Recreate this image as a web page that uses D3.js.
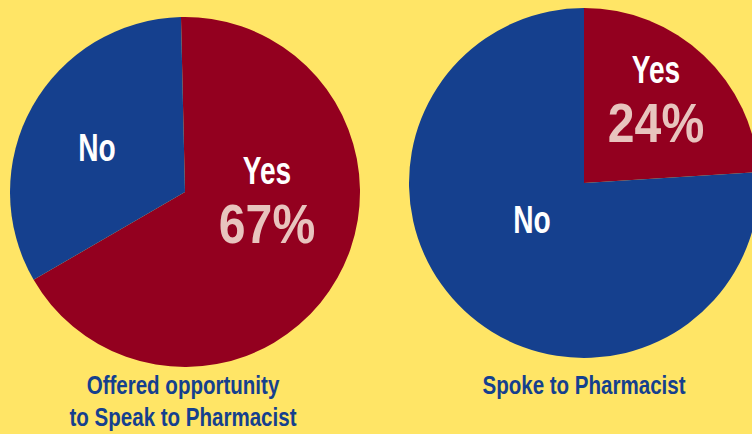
<!DOCTYPE html>
<html><head><meta charset="utf-8">
<script src="https://cdn.jsdelivr.net/npm/d3@7"></script>
<style>html,body{margin:0;padding:0;background:#FFE566;}svg{display:block;}</style>
</head><body>
<svg id="c" width="752" height="434"></svg>
<script>
const categories = ["Yes", "No"];
const offeredValues = [67, 33];
const spokeValues = [24, 76];
const titles = [["Offered opportunity", "to Speak to Pharmacist"], ["Spoke to Pharmacist"]];

const colors = {Yes: "#93001F", No: "#15408E"};
const font = "'Liberation Sans',Arial,sans-serif";
const svg = d3.select("#c");
svg.append("rect").attr("width", 752).attr("height", 434).attr("fill", "#FFE566");

function label(x, y, txt, size, sx, fill) {
  svg.append("text").attr("transform", `translate(${x},${y}) scale(${sx},1)`)
    .attr("text-anchor", "middle").attr("font-family", font).attr("font-weight", "bold")
    .attr("font-size", size).attr("fill", fill).text(txt);
}

const pies = [
  {values: offeredValues, cx: 185, cy: 192, r: 175, start: -0.023,
   labels: {Yes: [267, 184, true], No: [97, 161, false]}, title: titles[0], tx: 183, ty: 394},
  {values: spokeValues, cx: 584, cy: 183, r: 175, start: 0,
   labels: {Yes: [656, 83, true], No: [532, 233, false]}, title: titles[1], tx: 584, ty: 394}
];

pies.forEach(p => {
  const data = categories.map((c, i) => ({cat: c, value: p.values[i]}));
  const pie = d3.pie().sort(null).value(d => d.value)
    .startAngle(p.start).endAngle(p.start + 2 * Math.PI);
  const arc = d3.arc().innerRadius(0).outerRadius(p.r);
  const g = svg.append("g").attr("transform", `translate(${p.cx},${p.cy})`);
  g.selectAll("path").data(pie(data)).join("path")
    .attr("d", arc).attr("fill", d => colors[d.data.cat]);

  data.forEach(d => {
    const [x, y, showPct] = p.labels[d.cat];
    label(x, y, d.cat, 38, 0.74, "#ffffff");
    if (showPct) label(x, y + 59, d.value + "%", 56, 0.86, "#E8C4BE");
  });

  p.title.forEach((t, i) => label(p.tx, p.ty + i * 32, t, 26, 0.79, "#15408E"));
});
</script>
</body></html>
